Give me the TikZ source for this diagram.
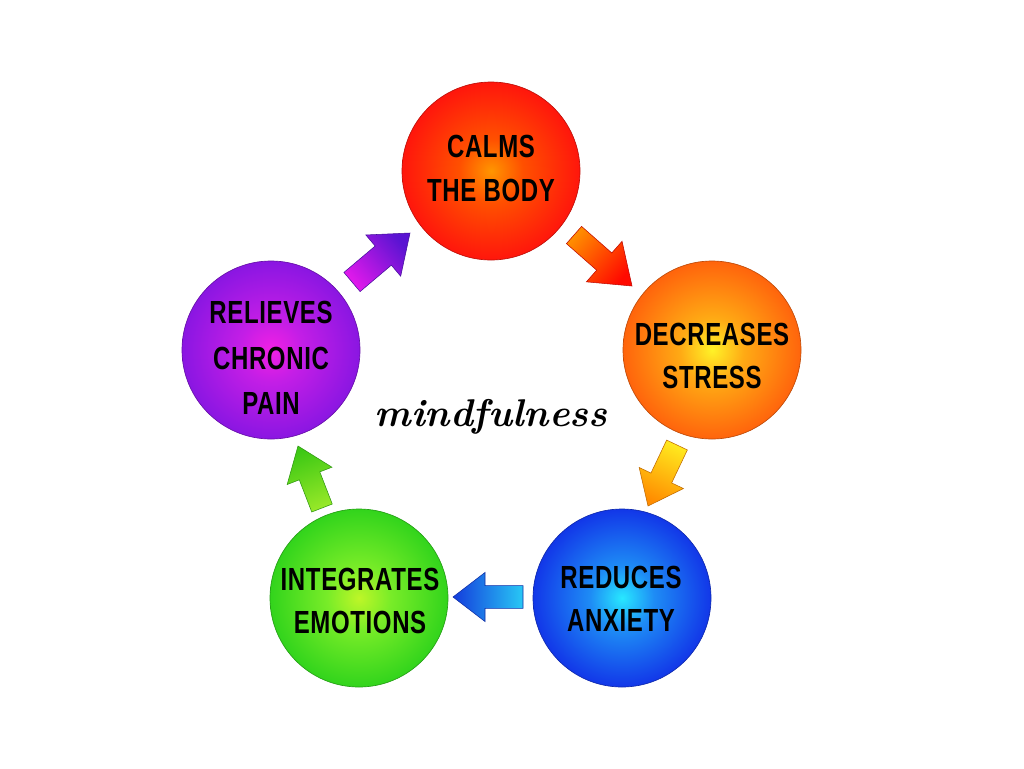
\documentclass[tikz,border=0pt]{standalone}
\usepackage{fontspec}
\newfontfamily\labfont[FakeStretch=0.75,LetterSpace=2]{Liberation Sans}
\usetikzlibrary{calc}
\definecolor{redA}{RGB}{255,150,0}
\definecolor{redB}{RGB}{255,80,0}
\definecolor{redC}{RGB}{255,22,12}
\definecolor{orgA}{RGB}{255,242,40}
\definecolor{orgB}{RGB}{255,170,20}
\definecolor{orgC}{RGB}{255,100,12}
\definecolor{bluA}{RGB}{40,232,255}
\definecolor{bluB}{RGB}{30,140,245}
\definecolor{bluC}{RGB}{18,55,232}
\definecolor{grnA}{RGB}{190,246,40}
\definecolor{grnB}{RGB}{120,236,40}
\definecolor{grnC}{RGB}{50,212,28}
\definecolor{purA}{RGB}{242,32,228}
\definecolor{purB}{RGB}{195,30,230}
\definecolor{purC}{RGB}{138,22,226}
\definecolor{aOneT}{RGB}{255,140,0}
\definecolor{aOneP}{RGB}{255,10,0}
\definecolor{aTwoT}{RGB}{255,232,30}
\definecolor{aTwoP}{RGB}{255,140,0}
\definecolor{aThrT}{RGB}{40,200,245}
\definecolor{aThrP}{RGB}{20,60,220}
\definecolor{aFouT}{RGB}{150,232,40}
\definecolor{aFouP}{RGB}{60,200,20}
\definecolor{aFivT}{RGB}{225,25,235}
\definecolor{aFivP}{RGB}{90,20,210}
\pgfdeclareradialshading{redball}{\pgfpoint{0bp}{0bp}}{color(0bp)=(redA); color(9bp)=(redB); color(25bp)=(redC); color(50bp)=(redC)}
\pgfdeclareradialshading{orgball}{\pgfpoint{0bp}{0bp}}{color(0bp)=(orgA); color(9bp)=(orgB); color(25bp)=(orgC); color(50bp)=(orgC)}
\pgfdeclareradialshading{bluball}{\pgfpoint{0bp}{0bp}}{color(0bp)=(bluA); color(9bp)=(bluB); color(25bp)=(bluC); color(50bp)=(bluC)}
\pgfdeclareradialshading{grnball}{\pgfpoint{0bp}{0bp}}{color(0bp)=(grnA); color(9bp)=(grnB); color(25bp)=(grnC); color(50bp)=(grnC)}
\pgfdeclareradialshading{purball}{\pgfpoint{0bp}{0bp}}{color(0bp)=(purA); color(9bp)=(purB); color(25bp)=(purC); color(50bp)=(purC)}
\newcommand\blockarrow[8]{%
  \coordinate (#1-h) at ($(#2)!#5!(#1)$);
  \shade[bottom color=#6, top color=#7, shading angle=#8, draw=#7!75!black, line width=0.4pt, line join=miter]
   ($(#1)!#3!90:(#2)$) -- ($(#1-h)!#3!90:(#2)$) -- ($(#1-h)!#4!90:(#2)$) -- (#2)
   -- ($(#1-h)!#4!-90:(#2)$) -- ($(#1-h)!#3!-90:(#2)$) -- ($(#1)!#3!-90:(#2)$) -- cycle;}
\tikzset{
  ball/.style={circle, minimum size=133.5pt, inner sep=0pt, draw=#1!75!black, line width=0.5pt},
  lbl/.style={font=\labfont\bfseries\fontsize{24}{32.5}\selectfont, align=center, text=black, inner sep=0pt},
}
\begin{document}
\begin{tikzpicture}[x=0.75pt,y=-0.75pt]
\fill[white] (0,0) rectangle (1024,768);
\useasboundingbox (0,0) rectangle (1024,768);
% balls
\node[ball=redC, shading=redball] (calms) at (491,171) {};
\node[ball=orgC, shading=orgball] (decr) at (712,350) {};
\node[ball=bluC, shading=bluball] (redu) at (622,598) {};
\node[ball=grnC, shading=grnball] (integ) at (359,598) {};
\node[ball=purC, shading=purball] (reliev) at (271,350) {};
% labels
\node[lbl] (calmsT) at (491,168.5) {CALMS\\THE BODY};
\node[lbl] (decrT) at (712,356) {DECREASES\\STRESS};
\node[lbl] (reduT) at (621,598.5) {REDUCES\\ANXIETY};
\node[lbl] (integT) at (360,601) {INTEGRATES\\EMOTIONS};
\node[lbl, font=\labfont\bfseries\fontsize{24}{34}\selectfont] (relievT) at (271,358) {RELIEVES\\CHRONIC\\PAIN};
\node[font=\fontsize{29}{34}\selectfont\bfseries\itshape, anchor=base, inner sep=0pt] (mind) at (491,426) {mindfulness};
% arrow end points
\coordinate (a1t) at (574,235); \coordinate (a1p) at (632,286);
\coordinate (a2t) at (677,445); \coordinate (a2p) at (648,506);
\coordinate (a3t) at (523,597); \coordinate (a3p) at (453,597);
\coordinate (a4t) at (322,508); \coordinate (a4p) at (298,446);
\coordinate (a5t) at (352,282); \coordinate (a5p) at (410,233);
\blockarrow{a1t}{a1p}{8.6pt}{20.25pt}{27.75pt}{aOneT}{aOneP}{-131.3}
\blockarrow{a2t}{a2p}{8.6pt}{18.4pt}{23.25pt}{aTwoT}{aTwoP}{154.6}
\blockarrow{a3t}{a3p}{8.6pt}{18.4pt}{24pt}{aThrT}{aThrP}{90}
\blockarrow{a4t}{a4p}{8.25pt}{18pt}{24pt}{aFouT}{aFouP}{21.2}
\blockarrow{a5t}{a5p}{9.4pt}{20.25pt}{26.25pt}{aFivT}{aFivP}{-49.8}
\end{tikzpicture}
\end{document}
